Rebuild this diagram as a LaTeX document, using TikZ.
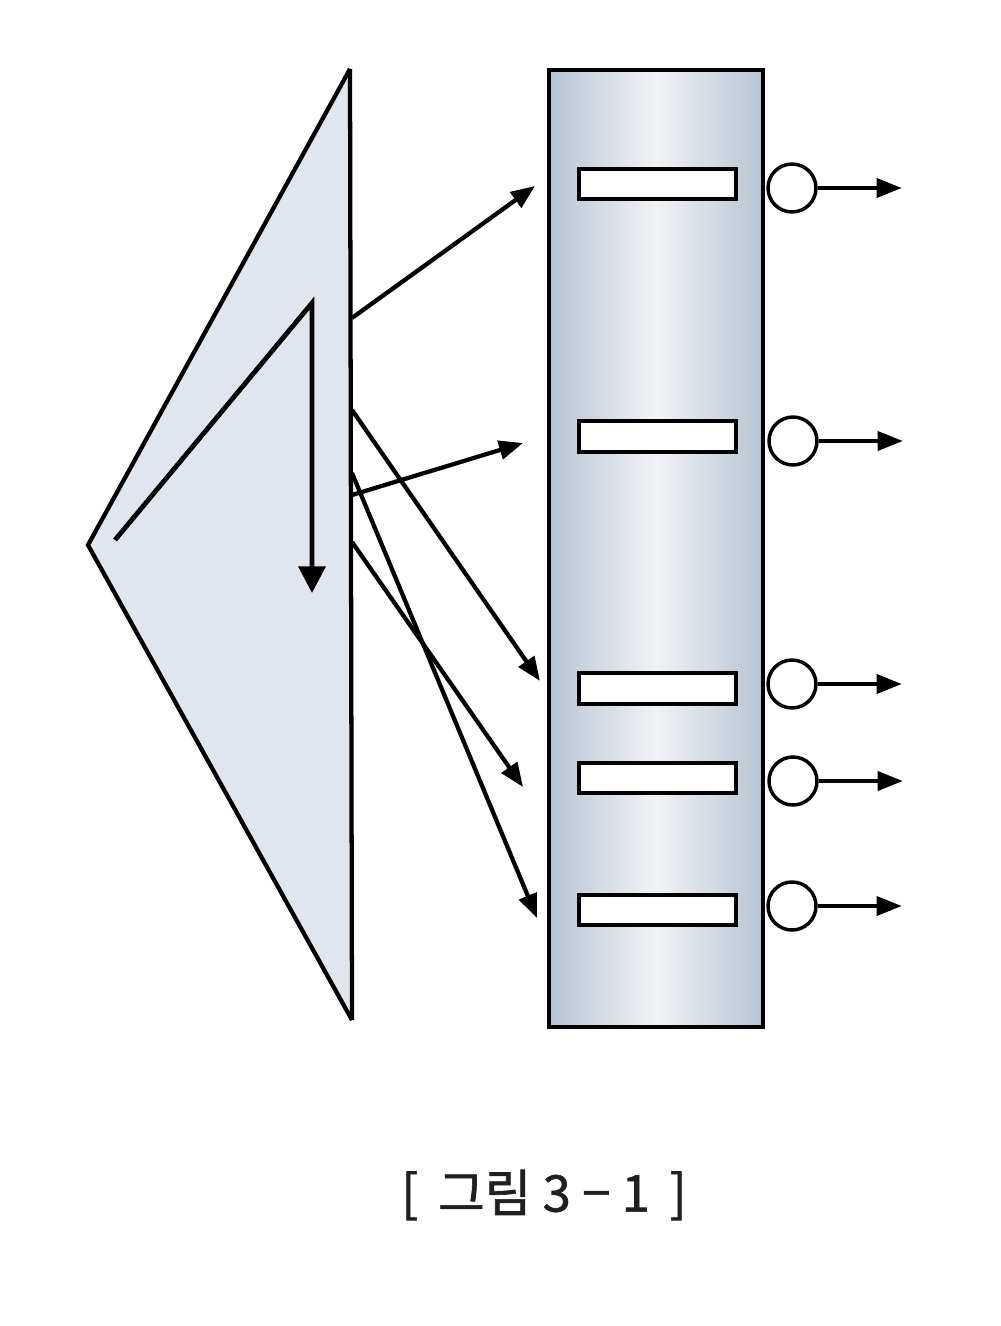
\documentclass[tikz,border=0pt]{standalone}
\usepackage{fontspec}
\newfontfamily\krfont[FakeBold=1.2]{Noto Sans CJK KR}
\usetikzlibrary{arrows.meta}
\definecolor{colEdge}{HTML}{B8C4D3}
\definecolor{colMid}{HTML}{F1F3F6}
\definecolor{triFill}{HTML}{E1E6EE}
\tikzset{
  outline/.style={draw=black, line width=3.2pt, line join=miter},
  slotbox/.style={draw=black, fill=white, line width=3.2pt, minimum width=118pt, minimum height=23pt, inner sep=0pt},
  valve/.style={circle, draw=black, fill=white, line width=2.6pt, minimum size=36pt, inner sep=0pt},
  flow/.style={line width=3.4pt, -{Triangle[length=19pt,width=14pt]}},
  feed/.style={line width=3.2pt, -{Triangle[length=18pt,width=14pt]}},
}
\begin{document}
\begin{tikzpicture}[x=0.75pt, y=-0.75pt]
\useasboundingbox (0,0) rectangle (1000,1326);
% triangle
\coordinate (tt) at (350,69);
\coordinate (tl) at (88,545);
\coordinate (tb) at (352,1020);
\fill[triFill] (tt) -- (tl) -- (tb) -- cycle;
\draw[outline] (tt) -- (tl) -- (tb);
\draw[outline] (tt) -- (tb);
% inner stroke
\coordinate (is) at (115,540);
\coordinate (ik) at (312,303);
\coordinate (ie) at (312,593);
\draw[line width=3.6pt, line join=miter, -{Triangle[length=20pt,width=20pt]}] (is) -- (ik) -- (ie);
% column
\shade[left color=colEdge, right color=colEdge, middle color=colMid] (549,70) rectangle (763,1027);
\draw[outline] (549,70) rectangle (763,1027);
% slots
\node[slotbox] (s1) at (657.5,184) {};
\node[slotbox] (s2) at (657.5,436.5) {};
\node[slotbox] (s3) at (657.5,688.5) {};
\node[slotbox] (s4) at (657.5,778) {};
\node[slotbox] (s5) at (657.5,910) {};
% valves
\node[valve] (v1) at (792,188) {};
\node[valve] (v2) at (793,441) {};
\node[valve] (v3) at (792,684) {};
\node[valve] (v4) at (793,781) {};
\node[valve] (v5) at (792,906) {};
\coordinate (o1) at (902,188);
\coordinate (o2) at (903,441);
\coordinate (o3) at (902,684);
\coordinate (o4) at (903,781);
\coordinate (o5) at (902,906);
\foreach \i in {1,...,5} \draw[flow] (v\i.east) -- (o\i);
% feed lines from the triangle edge
\coordinate (f1) at (352,318);
\coordinate (f2) at (352,495);
\coordinate (f3) at (352,410);
\coordinate (f4) at (352,542);
\coordinate (f5) at (352,473);
\coordinate (e1) at (535,186);
\coordinate (e2) at (523,443);
\coordinate (e3) at (540,681);
\coordinate (e4) at (523,787);
\coordinate (e5) at (537,918);
\foreach \i in {1,...,5} \draw[feed] (f\i) -- (e\i);
% caption
\node[font=\krfont\fontsize{38}{42}\selectfont, text=black!88] (cap) at (544,1195) {[\, 그림 3 − 1 \,]};
\end{tikzpicture}
\end{document}
